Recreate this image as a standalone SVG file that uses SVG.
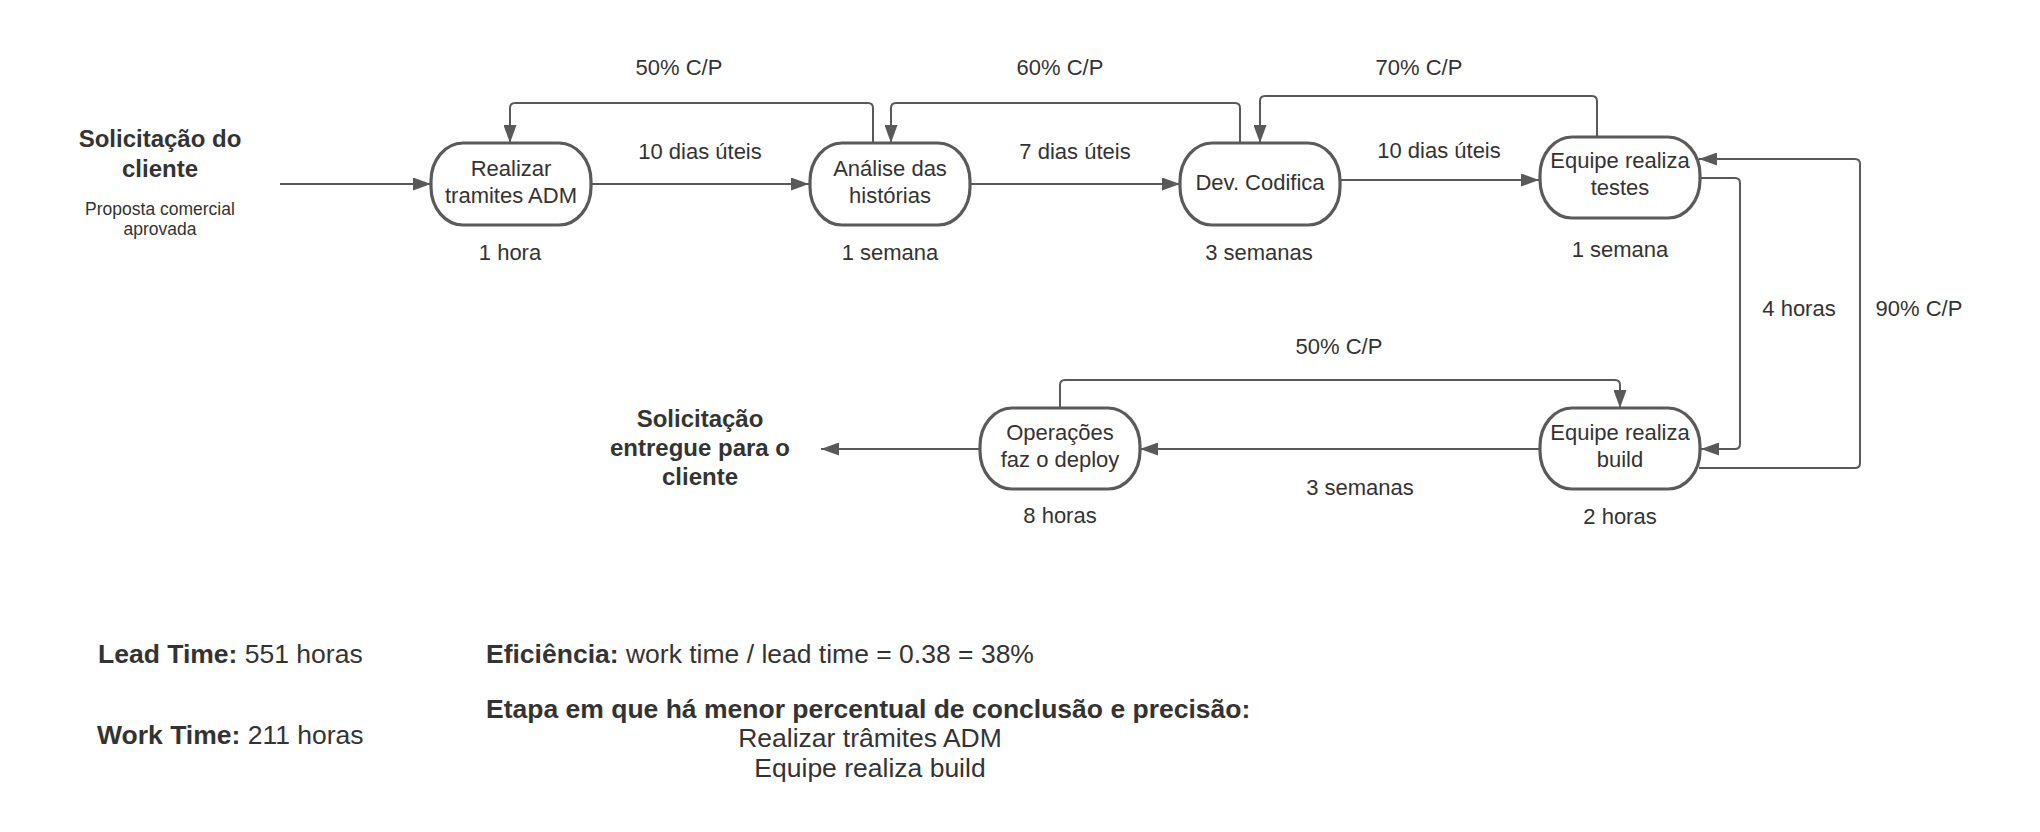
<svg xmlns="http://www.w3.org/2000/svg" width="2040" height="832" viewBox="0 0 2040 832">
<defs>
<style>
text{font-family:"Liberation Sans",Arial,sans-serif;fill:#333333;}
.n{font-size:22px;text-anchor:middle;}
.l{font-size:22px;text-anchor:middle;}
.h{font-size:24px;font-weight:bold;text-anchor:middle;}
.s{font-size:17.5px;text-anchor:middle;}
.b{font-size:26.5px;}
.bb{font-weight:bold;}
.node{fill:#ffffff;stroke:#5a5a5a;stroke-width:3.2;}
.c{fill:none;stroke:#595959;stroke-width:2;}
.a{marker-end:url(#arr);}
</style>
<marker id="arr" viewBox="0 0 18 13" refX="18" refY="6.5" markerWidth="18" markerHeight="13" orient="auto" markerUnits="userSpaceOnUse">
<path d="M0,0 L18,6.5 L0,13 z" fill="#595959"/>
</marker>
</defs>
<rect width="2040" height="832" fill="#ffffff"/>

<g id="connectors">
<path class="c a" d="M280,184 H431"/>
<path class="c a" d="M591,184 H809"/>
<path class="c a" d="M971,184 H1180"/>
<path class="c a" d="M1340,180 H1539"/>
<path class="c a" d="M873,143 V108 Q873,103 868,103 H515 Q510,103 510,108 V143"/>
<path class="c a" d="M1240,143 V108 Q1240,103 1235,103 H896 Q891,103 891,108 V143"/>
<path class="c a" d="M1597,137 V101 Q1597,96 1592,96 H1265 Q1260,96 1260,101 V143"/>
<path class="c a" d="M1701,178 H1735 Q1740,178 1740,183 V444 Q1740,449 1735,449 H1701"/>
<path class="c a" d="M1699,468 H1855 Q1860,468 1860,463 V164 Q1860,159 1855,159 H1699"/>
<path class="c a" d="M1539,449 H1140"/>
<path class="c a" d="M980,449 H821"/>
<path class="c a" d="M1060,408 V385 Q1060,380 1065,380 H1615 Q1620,380 1620,385 V408"/>
</g>

<g id="labels">
<text class="l" x="679" y="75">50% C/P</text>
<text class="l" x="1060" y="75">60% C/P</text>
<text class="l" x="1419" y="75">70% C/P</text>
<text class="l" x="700" y="159">10 dias úteis</text>
<text class="l" x="1075" y="159">7 dias úteis</text>
<text class="l" x="1439" y="158">10 dias úteis</text>
<text class="l" x="1799" y="316">4 horas</text>
<text class="l" x="1919" y="316">90% C/P</text>
<text class="l" x="1339" y="354">50% C/P</text>
<text class="l" x="1360" y="495">3 semanas</text>
</g>

<g id="start">
<text class="h" x="160" y="147">Solicitação do</text>
<text class="h" x="160" y="177">cliente</text>
<text class="s" x="160" y="215">Proposta comercial</text>
<text class="s" x="160" y="235">aprovada</text>
</g>

<g id="node-realizar">
<rect class="node" x="431" y="143" width="160" height="82" rx="32" ry="38"/>
<text class="n" x="511" y="176">Realizar</text>
<text class="n" x="511" y="203">tramites ADM</text>
<text class="l" x="510" y="260">1 hora</text>
</g>

<g id="node-analise">
<rect class="node" x="810" y="143" width="160" height="82" rx="32" ry="38"/>
<text class="n" x="890" y="176">Análise das</text>
<text class="n" x="890" y="203">histórias</text>
<text class="l" x="890" y="260">1 semana</text>
</g>

<g id="node-dev">
<rect class="node" x="1180" y="143" width="160" height="82" rx="32" ry="38"/>
<text class="n" x="1260" y="190">Dev. Codifica</text>
<text class="l" x="1259" y="260">3 semanas</text>
</g>

<g id="node-testes">
<rect class="node" x="1540" y="137" width="160" height="81" rx="32" ry="38"/>
<text class="n" x="1620" y="168">Equipe realiza</text>
<text class="n" x="1620" y="195">testes</text>
<text class="l" x="1620" y="257">1 semana</text>
</g>

<g id="node-build">
<rect class="node" x="1540" y="408" width="160" height="81" rx="32" ry="38"/>
<text class="n" x="1620" y="440">Equipe realiza</text>
<text class="n" x="1620" y="467">build</text>
<text class="l" x="1620" y="524">2 horas</text>
</g>

<g id="node-operacoes">
<rect class="node" x="980" y="408" width="160" height="81" rx="32" ry="38"/>
<text class="n" x="1060" y="440">Operações</text>
<text class="n" x="1060" y="467">faz o deploy</text>
<text class="l" x="1060" y="523">8 horas</text>
</g>

<g id="end">
<text class="h" x="700" y="427">Solicitação</text>
<text class="h" x="700" y="456">entregue para o</text>
<text class="h" x="700" y="485">cliente</text>
</g>

<g id="summary">
<text class="b" x="98" y="663"><tspan class="bb">Lead Time:</tspan> 551 horas</text>
<text class="b" x="97" y="744"><tspan class="bb">Work Time:</tspan> 211 horas</text>
<text class="b" x="486" y="663"><tspan class="bb">Eficiência:</tspan> work time / lead time = 0.38 = 38%</text>
<text class="b bb" x="486" y="718">Etapa em que há menor percentual de conclusão e precisão:</text>
<text class="b" x="870" y="747" text-anchor="middle">Realizar trâmites ADM</text>
<text class="b" x="870" y="777" text-anchor="middle">Equipe realiza build</text>
</g>
</svg>
